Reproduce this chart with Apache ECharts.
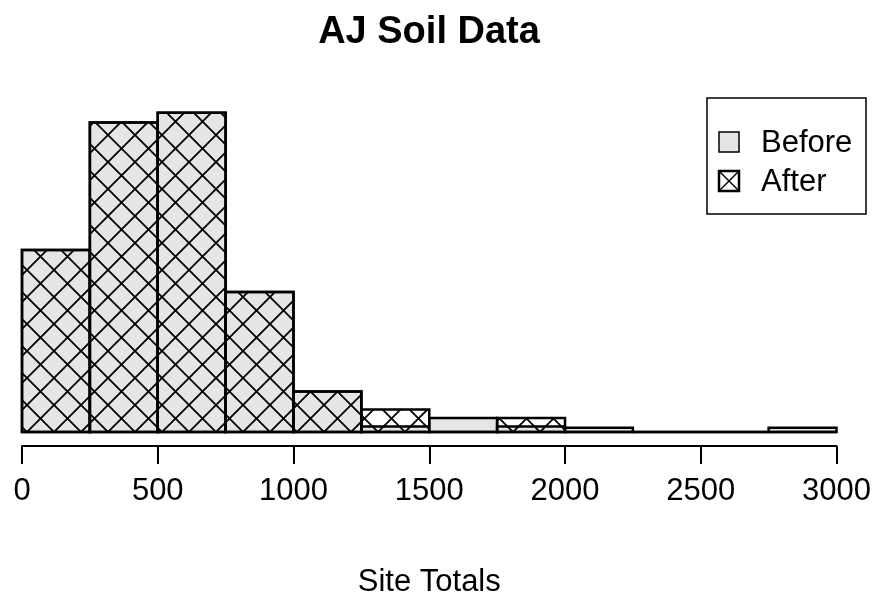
<!DOCTYPE html>
<html><head><meta charset="utf-8">
<script src="https://cdn.jsdelivr.net/npm/echarts@6/dist/echarts.min.js"></script>
<style>html,body{margin:0;padding:0;background:#fff}#c{width:878px;height:601px}</style>
</head><body><div id="c"></div>
<script>
// ---- data ----
const binStarts = [0, 250, 500, 750, 1000, 1250, 1500, 1750, 2000, 2250, 2500, 2750];
const binWidth = 250;
const beforeCounts = [130, 221, 228, 100, 29, 4, 10, 4, 3, 0, 0, 3];
const afterCounts  = [130, 221, 228, 100, 29, 16, 0, 10, 0, 0, 0, 0];
const xTicks = [0, 500, 1000, 1500, 2000, 2500, 3000];
const seriesNames = ['Before', 'After'];
const chartTitle = 'AJ Soil Data';
const xTitle = 'Site Totals';

const FONT = '"Liberation Sans", Arial, Helvetica, sans-serif';
const GREY = '#e5e5e5';

function hatchCanvas(d) {
  const c = document.createElement('canvas');
  c.width = d; c.height = d;
  const g = c.getContext('2d');
  g.strokeStyle = '#000'; g.lineWidth = 1.8;
  g.beginPath();
  g.moveTo(-2, -2); g.lineTo(d + 2, d + 2);
  g.moveTo(d + 2, -2); g.lineTo(-2, d + 2);
  g.stroke();
  return c;
}
const hatch = { image: hatchCanvas(27), repeat: 'repeat' };

function toData(counts) {
  return binStarts.map((s, i) => [s, s + binWidth, counts[i]]);
}
function makeRender(fill) {
  return function (params, api) {
    const p0 = api.coord([api.value(0), 0]);
    const p1 = api.coord([api.value(1), api.value(2)]);
    return {
      type: 'rect',
      shape: { x: p0[0], y: p1[1], width: p1[0] - p0[0], height: p0[1] - p1[1] },
      style: { fill: fill, stroke: '#000', lineWidth: 2.5 }
    };
  };
}

const chart = echarts.init(document.getElementById('c'), null, { renderer: 'canvas' });
chart.setOption({
  animation: false,
  backgroundColor: '#fff',
  title: {
    text: chartTitle, left: 424, top: 9, textAlign: 'center',
    textStyle: { fontFamily: FONT, fontWeight: 'bold', fontSize: 38, color: '#000' }
  },
  grid: { left: 22, right: 41.5, top: 59.6, bottom: 155, containLabel: false, outerBoundsMode: 'none' },
  xAxis: {
    type: 'value', min: 0, max: 3000, interval: 500,
    name: xTitle, nameLocation: 'middle', nameGap: 121,
    nameTextStyle: { fontFamily: FONT, fontSize: 31, color: '#000' },
    splitLine: { show: false },
    axisLine: { show: true, onZero: false, lineStyle: { color: '#000', width: 2 } },
    axisTick: { show: true, length: 18, lineStyle: { color: '#000', width: 2 }, customValues: xTicks },
    axisLabel: { fontFamily: FONT, fontSize: 31, color: '#000', margin: 30, customValues: xTicks,
      formatter: v => String(v) }
  },
  yAxis: { type: 'value', min: -10, max: 266, show: false, splitLine: { show: false } },
  series: [
    { name: seriesNames[0], type: 'custom', data: toData(beforeCounts), renderItem: makeRender(GREY), z: 2 },
    { name: seriesNames[1], type: 'custom', data: toData(afterCounts), renderItem: makeRender(hatch), z: 3 }
  ],
  graphic: [
    { type: 'rect', shape: { x: 707, y: 98, width: 159, height: 116 }, style: { fill: '#fff', stroke: '#000', lineWidth: 1.5 }, z: 10 },
    { type: 'rect', shape: { x: 719, y: 132, width: 20, height: 20 }, style: { fill: GREY, stroke: '#000', lineWidth: 1.5 }, z: 11 },
    { type: 'text', x: 761, y: 143, style: { text: seriesNames[0], font: '31px ' + FONT, fill: '#000', textVerticalAlign: 'middle' }, z: 11 },
    { type: 'rect', shape: { x: 719, y: 171, width: 20, height: 20 }, style: { fill: '#fff', stroke: '#000', lineWidth: 2.5 }, z: 11 },
    { type: 'polyline', shape: { points: [[719, 171], [739, 191]] }, style: { stroke: '#000', lineWidth: 1.5 }, z: 12 },
    { type: 'polyline', shape: { points: [[739, 171], [719, 191]] }, style: { stroke: '#000', lineWidth: 1.5 }, z: 12 },
    { type: 'text', x: 761, y: 182, style: { text: seriesNames[1], font: '31px ' + FONT, fill: '#000', textVerticalAlign: 'middle' }, z: 11 }
  ]
});
</script>
</body></html>
